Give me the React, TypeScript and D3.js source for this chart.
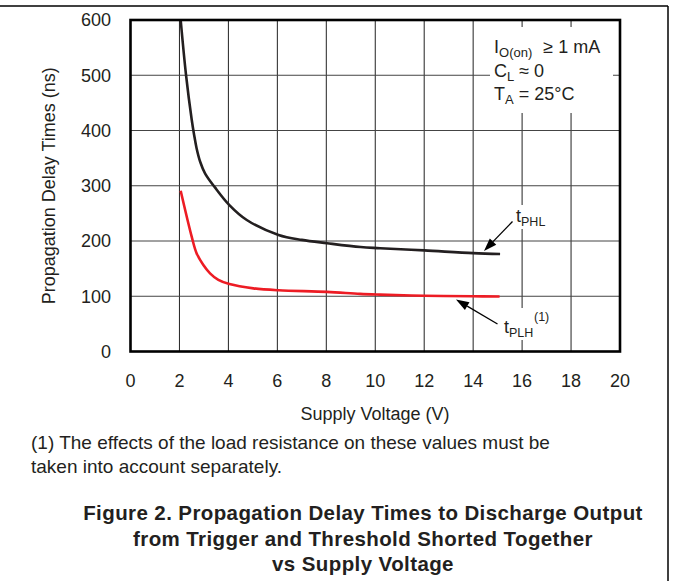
import React from "react";
import * as d3 from "d3";

const xTicks = [0, 2, 4, 6, 8, 10, 12, 14, 16, 18, 20];
const yTicks = [0, 100, 200, 300, 400, 500, 600];

const phlVolts = [2.05, 2.27, 2.5, 2.6, 2.7, 2.85, 3.05, 3.45, 4.04, 4.75, 6.05, 7.0, 8.03, 9.4, 10.2, 12.0, 14.0, 15.1];
const phlDelay = [600, 500, 420, 392, 368, 343, 322, 297, 265, 238, 211, 202, 196, 189, 187, 183, 178, 176.5];

const plhVolts = [2.05, 2.5, 2.7, 2.97, 3.25, 3.59, 4.04, 5.02, 6.05, 8.03, 9.38, 10.2, 12.0, 14.0, 15.08];
const plhDelay = [291, 208, 178, 157, 141.5, 129.5, 122, 114.3, 110.8, 108, 104.3, 103, 101, 100, 99.5];

const W = 673;
const H = 581;
const FONT = "'Liberation Sans', Arial, Helvetica, sans-serif";

export default function App() {
  const left = 130.5, right = 620, top = 20, bottom = 351.5;
  const x = d3.scaleLinear().domain([0, 20]).range([left, right]);
  const y = d3.scaleLinear().domain([0, 600]).range([bottom, top]);

  const phl = phlVolts.map((v, i) => [v, phlDelay[i]] as [number, number]);
  const plh = plhVolts.map((v, i) => [v, plhDelay[i]] as [number, number]);
  const line = d3
    .line<[number, number]>()
    .x((d) => x(d[0]))
    .y((d) => y(d[1]))
    .curve(d3.curveCatmullRom.alpha(0.5));

  const arrow = (x1: number, y1: number, x2: number, y2: number) => {
    const ang = Math.atan2(y2 - y1, x2 - x1);
    const L = 13, Wd = 4.5;
    const bx = x2 - L * Math.cos(ang), by = y2 - L * Math.sin(ang);
    const px = -Math.sin(ang) * Wd, py = Math.cos(ang) * Wd;
    return (
      <g>
        <line x1={x1} y1={y1} x2={bx} y2={by} stroke="#000" strokeWidth={1.3} />
        <path d={`M${x2},${y2}L${bx + px},${by + py}L${bx - px},${by - py}Z`} fill="#000" />
      </g>
    );
  };

  return (
    <svg
      width={W}
      height={H}
      style={{ position: "absolute", left: 0, top: 0, display: "block", background: "#fff" }}
      fontFamily={FONT}
    >
      <defs>
        <clipPath id="plotclip">
          <rect x={left} y={top} width={right - left} height={bottom - top} />
        </clipPath>
      </defs>
      {/* outer frame */}
      <line x1={0} y1={6} x2={668} y2={6} stroke="#000" strokeWidth={1.5} />
      <line x1={668} y1={6} x2={668} y2={H} stroke="#000" strokeWidth={1.5} />

      {/* grid */}
      {xTicks.slice(1, -1).map((t) => (
        <line key={"gx" + t} x1={x(t)} x2={x(t)} y1={top} y2={bottom} stroke="#222" strokeWidth={1} />
      ))}
      {yTicks.slice(1, -1).map((t) => (
        <line key={"gy" + t} x1={left} x2={right} y1={y(t)} y2={y(t)} stroke="#444" strokeWidth={1} />
      ))}

      {/* white boxes over grid */}
      <rect x={490} y={27} width={123} height={86} fill="#fff" />
      <rect x={513} y={205} width={36} height={24} fill="#fff" />
      <rect x={500} y={308} width={53} height={32} fill="#fff" />

      {/* curves */}
      <g clipPath="url(#plotclip)">
        <path d={line(phl) || ""} fill="none" stroke="#231f20" strokeWidth={2.6} />
        <path d={line(plh) || ""} fill="none" stroke="#ed1c24" strokeWidth={2.6} />
      </g>

      {/* plot frame */}
      <rect x={left} y={top} width={right - left} height={bottom - top} fill="none" stroke="#000" strokeWidth={2.6} />

      {/* tick labels */}
      {yTicks.map((t) => (
        <text key={"ty" + t} x={111} y={y(t)} dy="0.36em" textAnchor="end" fontSize={18} fill="#231f20">
          {t}
        </text>
      ))}
      {xTicks.map((t) => (
        <text key={"tx" + t} x={x(t)} y={387} textAnchor="middle" fontSize={18} fill="#231f20">
          {t}
        </text>
      ))}

      {/* axis titles */}
      <text x={375} y={420} textAnchor="middle" fontSize={18} fill="#231f20">
        Supply Voltage (V)
      </text>
      <text
        transform={`translate(48.5,${(top + bottom) / 2}) rotate(-90)`}
        dy="0.36em"
        textAnchor="middle"
        fontSize={18}
        fill="#231f20"
      >
        Propagation Delay Times (ns)
      </text>

      {/* condition box */}
      <text x={494} y={53} fontSize={18} fill="#231f20">
        I<tspan fontSize={13} dy={4}>O(on)</tspan>
        <tspan dy={-4} dx={6}>{" \u2265 1 mA"}</tspan>
      </text>
      <text x={494} y={77} fontSize={18} fill="#231f20">
        C<tspan fontSize={13} dy={4}>L</tspan>
        <tspan dy={-4}>{" \u2248 0"}</tspan>
      </text>
      <text x={494} y={100} fontSize={18} fill="#231f20">
        T<tspan fontSize={13} dy={4}>A</tspan>
        <tspan dy={-4}>{" = 25\u00B0C"}</tspan>
      </text>

      {/* series labels */}
      <text x={516} y={222} fontSize={18} fill="#231f20">
        t<tspan fontSize={12.5} dy={4}>PHL</tspan>
      </text>
      {arrow(512.5, 221.5, 484, 251)}
      <text x={504} y={333} fontSize={18} fill="#231f20">
        t<tspan fontSize={12.5} dy={4}>PLH</tspan>
      </text>
      <text x={534} y={321} fontSize={12.5} fill="#231f20">
        (1)
      </text>
      {arrow(497.5, 324, 456, 299.5)}

      {/* footnote */}
      <text x={31} y={449} fontSize={19} fill="#231f20">
        (1) The effects of the load resistance on these values must be
      </text>
      <text x={31} y={473} fontSize={19} fill="#231f20">
        taken into account separately.
      </text>

      {/* caption */}
      <g fontWeight="bold" fontSize={20.5} letterSpacing={0.4} textAnchor="middle" fill="#231f20">
        <text x={363} y={520}>Figure 2. Propagation Delay Times to Discharge Output</text>
        <text x={363} y={546}>from Trigger and Threshold Shorted Together</text>
        <text x={363} y={571}>vs Supply Voltage</text>
      </g>
    </svg>
  );
}
